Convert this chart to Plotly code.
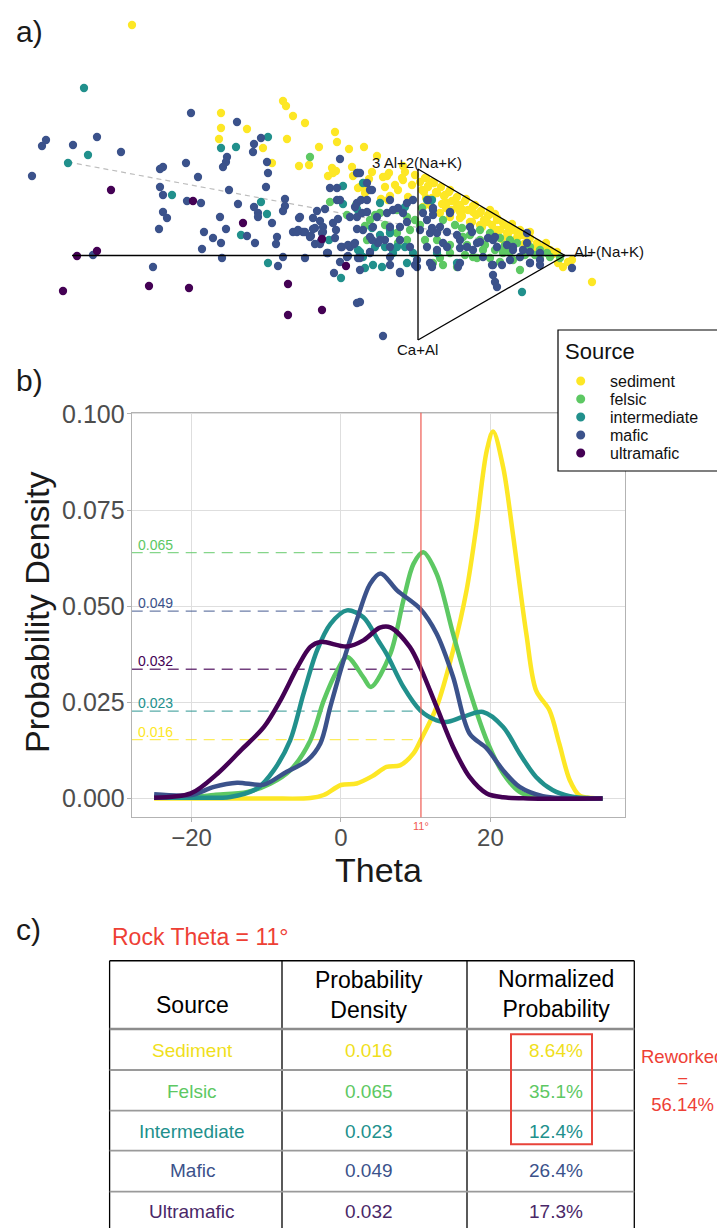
import plotly.graph_objects as go

W, H = 725, 1228
OFF = 8  # page body margin that the browser adds around the figure

# ---------------- shared categories ----------------
sources = ["sediment", "felsic", "intermediate", "mafic", "ultramafic"]
table_sources = ["Sediment", "Felsic", "Intermediate", "Mafic", "Ultramafic"]
colors = ["#FDE725", "#5DC863", "#21908C", "#3B528B", "#440154"]
table_colors = ["#F0DF1C", "#5DC863", "#21908C", "#3B528B", "#4A2868"]

# ---------------- panel a: projected samples (figure units, y downward) ----------------
sediment_pts = [
    (132, 25), (221, 113), (221, 128), (219, 139), (247, 129), (283, 101), (286, 106), (293, 116),
    (305, 123), (287, 139), (263, 148), (272, 163), (299, 166), (309, 165), (319, 147), (335, 132),
    (337, 142), (349, 149), (332, 168), (336, 171), (328, 176), (352, 167), (353, 176), (358, 188),
    (364, 147), (377, 156), (333, 173), (372, 172), (369, 179), (387, 176), (389, 173), (403, 166),
    (405, 172), (402, 178), (360, 187), (366, 190), (385, 187), (381, 199), (390, 196), (408, 197),
    (422, 190), (426, 198), (423, 207), (434, 183), (365, 193), (388, 200), (383, 177), (403, 180),
    (395, 185), (412, 185), (415, 175), (398, 190), (432, 182), (437, 193), (445, 195), (447, 203),
    (457, 207), (463, 210), (473, 212), (480, 213), (488, 215), (497, 218), (503, 223), (510, 227),
    (517, 232), (523, 235), (530, 238), (537, 243), (543, 247), (550, 250), (557, 252), (440, 213),
    (450, 217), (460, 218), (470, 222), (480, 225), (487, 222), (497, 230), (507, 233), (517, 238),
    (527, 242), (537, 248), (558, 263), (563, 267), (568, 262), (572, 260), (592, 282), (426, 178),
    (450, 190), (466, 199), (490, 210), (512, 224), (530, 232), (546, 243), (428, 186), (455, 200),
    (475, 205), (495, 214), (520, 230), (420, 182), (424, 192), (430, 205), (446, 208), (460, 212),
    (425, 178), (433, 183), (441, 187), (449, 192), (457, 197), (465, 201), (473, 206), (481, 211),
    (489, 215), (497, 220), (505, 225), (513, 230), (521, 235), (529, 240), (537, 244), (545, 249),
    (553, 254), (428, 187), (436, 192), (444, 196), (452, 201), (460, 205), (468, 210), (476, 215),
    (484, 220), (492, 225), (500, 230), (508, 234), (516, 239), (524, 244), (532, 248), (540, 253),
    (432, 198), (442, 204), (452, 210), (462, 216), (472, 222), (482, 227), (492, 233), (502, 239),
]
felsic_pts = [
    (310, 157), (330, 202), (347, 215), (370, 220), (397, 233), (407, 217), (422, 208), (420, 225),
    (433, 263), (380, 213), (397, 210), (390, 233), (407, 240), (437, 240), (450, 253), (473, 257),
    (483, 250), (503, 253), (520, 257), (547, 253), (443, 265), (457, 267), (520, 270), (367, 240),
    (415, 220), (430, 200), (443, 220), (462, 228), (480, 230), (490, 233), (500, 238), (510, 240),
    (480, 240), (467, 245), (517, 243), (530, 247), (540, 250), (477, 258), (503, 250), (513, 260),
    (540, 258), (550, 257), (463, 237), (455, 225), (470, 235), (485, 245), (495, 250), (505, 245),
    (525, 255), (535, 255), (560, 258), (450, 245), (425, 240), (410, 230), (398, 243), (385, 225),
    (375, 215), (356, 205), (365, 226), (440, 258), (465, 255), (490, 258), (500, 262), (510, 252),
]
intermediate_pts = [
    (84, 88), (88, 155), (68, 163), (172, 195), (221, 148), (236, 147), (268, 137), (261, 202),
    (267, 214), (241, 235), (268, 263), (329, 240), (343, 186), (343, 204), (341, 278), (358, 250),
    (357, 209), (360, 252), (365, 268), (373, 265), (382, 267), (380, 235), (390, 233), (397, 247),
    (407, 263), (385, 247), (405, 207), (427, 200), (380, 203), (390, 230), (372, 228), (363, 257),
    (375, 247), (393, 253), (405, 247), (413, 253), (363, 183), (432, 200), (437, 253), (457, 263),
    (522, 292),
]
mafic_pts = [
    (32, 176), (42, 146), (46, 140), (73, 145), (97, 137), (121, 152), (191, 113), (237, 122),
    (261, 138), (254, 144), (253, 152), (227, 157), (226, 162), (223, 167), (267, 162), (268, 173),
    (340, 159), (357, 173), (163, 167), (160, 169), (186, 163), (198, 177), (160, 187), (163, 195),
    (187, 201), (201, 203), (229, 190), (266, 187), (238, 204), (254, 207), (258, 213), (258, 217),
    (285, 199), (285, 206), (283, 211), (272, 223), (220, 217), (226, 229), (163, 212), (167, 218),
    (159, 229), (204, 232), (213, 238), (221, 243), (202, 249), (247, 236), (255, 243), (277, 237),
    (276, 244), (299, 218), (293, 232), (298, 230), (303, 232), (313, 229), (311, 236), (320, 221),
    (325, 209), (317, 211), (330, 188), (337, 188), (337, 200), (338, 219), (336, 230), (335, 238),
    (323, 232), (315, 244), (320, 244), (341, 247), (350, 247), (354, 244), (357, 229), (357, 203),
    (328, 253), (348, 256), (358, 258), (340, 262), (334, 273), (283, 257), (278, 266), (305, 258),
    (222, 258), (153, 267), (93, 255), (357, 303), (357, 217), (297, 232), (305, 232), (315, 228),
    (310, 237), (321, 241), (327, 253), (342, 247), (348, 245), (355, 243), (347, 257), (360, 258),
    (370, 252), (378, 243), (385, 240), (383, 336), (390, 265), (400, 273), (415, 265), (432, 267),
    (363, 230), (372, 240), (358, 173), (367, 183), (372, 190), (361, 200), (340, 200), (355, 207),
    (362, 213), (367, 212), (377, 217), (387, 213), (398, 208), (428, 200), (433, 210), (427, 220),
    (300, 217), (313, 218), (323, 227), (333, 223), (350, 217), (373, 227), (390, 227), (407, 222),
    (322, 233), (370, 190), (367, 200), (360, 173), (390, 200), (407, 203), (413, 200), (393, 210),
    (403, 213), (423, 213), (433, 215), (450, 213), (400, 227), (420, 230), (430, 233), (440, 227),
    (370, 237), (380, 240), (390, 247), (400, 240), (410, 247), (427, 247), (443, 243), (460, 240),
    (467, 247), (477, 243), (493, 240), (513, 247), (527, 243), (370, 253), (390, 257), (417, 260),
    (432, 265), (460, 263), (493, 265), (530, 263), (540, 260), (400, 272), (417, 267), (360, 270),
    (493, 275), (495, 282), (497, 287), (572, 268), (360, 302), (450, 212), (433, 208), (432, 228),
    (437, 233), (447, 232), (457, 235), (470, 227), (472, 232), (480, 242), (488, 238), (495, 237),
    (497, 247), (507, 245), (513, 250), (523, 250), (530, 252), (540, 253), (437, 250), (447, 247),
    (460, 248), (473, 250), (483, 257), (492, 265), (502, 265), (510, 260), (520, 257), (530, 263),
    (540, 265), (527, 233), (430, 263), (458, 267),
]
ultramafic_pts = [
    (111, 190), (77, 256), (97, 251), (63, 291), (149, 286), (189, 288), (193, 201), (243, 223),
    (288, 284), (288, 315), (322, 310), (346, 266), (322, 239),
]
points = [sediment_pts, felsic_pts, intermediate_pts, mafic_pts, ultramafic_pts]

# ---------------- panel b: density curves ----------------
sediment_theta = [-25, -10, -4.1, -2.3, 0, 2.1, 4.2, 6.1, 7.9, 9.7, 10.7, 12.8, 15, 16.8, 18.1, 19.5,
                  20.35, 21.7, 23, 24.8, 26.1, 27.9, 29.2, 30.6, 31.9, 33.5, 35]
sediment_dens = [0, 0, 0.0001, 0.0009, 0.0035, 0.0039, 0.0058, 0.0082, 0.0086, 0.0117, 0.0153, 0.0238,
                 0.0385, 0.0541, 0.0705, 0.0904, 0.0954, 0.0861, 0.0688, 0.0428, 0.0281, 0.0229,
                 0.0143, 0.0048, 0.0008, 0.0001, 0]
felsic_theta = [-25, -20, -17, -12.5, -9.4, -6.8, -4.1, -2.3, -0.5, 0.8, 3.0, 4.0, 6.6, 8.35, 9.7, 11,
                12.8, 15, 17.2, 19.5, 21.7, 23.9, 26, 30, 35]
felsic_dens = [0.0002, 0.0004, 0.0009, 0.0017, 0.0039, 0.0073, 0.0151, 0.0255, 0.0333, 0.0368, 0.0315,
               0.029, 0.0376, 0.0515, 0.061, 0.064, 0.0584, 0.0428, 0.0281, 0.0151, 0.0065, 0.0017,
               0.0003, 0, 0]
intermediate_theta = [-25, -20, -14.8, -11.2, -9.0, -6.8, -5.0, -3.2, -1.4, 0.8, 3.0, 5.0, 6.1, 8.35,
                      10.6, 12.8, 14.1, 16.3, 19, 21.7, 23.9, 26.1, 28.3, 30.6, 33, 35]
intermediate_dens = [0.0002, 0.0002, 0.0004, 0.0026, 0.0073, 0.0151, 0.0273, 0.0385, 0.0454, 0.0489,
                     0.0471, 0.041, 0.0376, 0.029, 0.0229, 0.0203, 0.0199, 0.0212, 0.0225, 0.0186,
                     0.0117, 0.0056, 0.0022, 0.0006, 0.0001, 0]
mafic_theta = [-25, -20, -17, -13.9, -10.3, -7.65, -4.5, -2.76, -1.43, 0.35, 2.1, 3.9, 5.3, 7.5, 10.6,
               12.8, 15, 17.2, 19.5, 21.7, 23.9, 27, 30, 35]
mafic_dens = [0.0011, 0.0009, 0.003, 0.0041, 0.0036, 0.0065, 0.0099, 0.0143, 0.0238, 0.0359, 0.0463,
              0.0558, 0.0585, 0.0541, 0.0493, 0.0428, 0.0316, 0.0169, 0.013, 0.0073, 0.003, 0.0006,
              0.0001, 0]
ultramafic_theta = [-25, -20.1, -16.5, -13.4, -10.3, -8.1, -5.8, -4.1, -2.76, 0.8, 3.0, 5.2, 6.6, 9.2,
                    10.7, 12.8, 15.0, 17.2, 19.5, 21.7, 25, 35]
ultramafic_dens = [0.0002, 0.0013, 0.0065, 0.0125, 0.0186, 0.0255, 0.0342, 0.0394, 0.0407, 0.0395,
                   0.0411, 0.0444, 0.0445, 0.0394, 0.0337, 0.0238, 0.0134, 0.0056, 0.0013, 0.0003,
                   0, 0]
curve_theta = [sediment_theta, felsic_theta, intermediate_theta, mafic_theta, ultramafic_theta]
curve_dens = [sediment_dens, felsic_dens, intermediate_dens, mafic_dens, ultramafic_dens]

rock_theta = 10.7            # position of the red line
rock_theta_label = "11°"
dens_at_rock = [0.0153, 0.0639, 0.0227, 0.0487, 0.0336]   # dashed line heights

# ---------------- panel c: table ----------------
table_density = ["0.016", "0.065", "0.023", "0.049", "0.032"]
table_normalized = [8.64, 35.1, 12.4, 26.4, 17.3]
reworked_groups = ["Sediment", "Felsic", "Intermediate"]


# ---------------- helpers for layout positions (screen pixels -> paper) ----------------
def px(x):
    return (x - OFF) / W


def py(y):
    return 1 - (y - OFF) / H


FONT = "Liberation Sans, Arial, Helvetica, sans-serif"

fig = go.Figure()

# panel a scatter
for name, col, pts in zip(sources, colors, points):
    fig.add_trace(go.Scatter(
        x=[p[0] for p in pts], y=[p[1] for p in pts], mode="markers",
        xaxis="x2", yaxis="y2", name=name, legendgroup=name, showlegend=False,
        marker=dict(size=8.3, color=col, line=dict(width=0)),
    ))

# panel b dashed guide lines
for col, d in zip(colors, dens_at_rock):
    fig.add_trace(go.Scatter(
        x=[-28, rock_theta], y=[d, d], mode="lines", showlegend=False, hoverinfo="skip",
        line=dict(color=col, width=1.3, dash="11px,7px"), opacity=0.75,
    ))

# panel b curves
for name, col, xs, ys in zip(sources, colors, curve_theta, curve_dens):
    fig.add_trace(go.Scatter(
        x=xs, y=ys, mode="lines", showlegend=False, name=name, legendgroup=name,
        line=dict(color=col, width=4.5, shape="spline", smoothing=0.9),
    ))

shapes = []
annotations = []

# ternary-like frame in panel a
tri = dict(xref="x2", yref="y2", line=dict(color="black", width=1.3), layer="above")
shapes.append(dict(type="line", x0=68, y0=162, x1=565, y1=255, xref="x2", yref="y2",
                   line=dict(color="#bdbdbd", width=1.2, dash="5px,4px"), layer="below"))
shapes.append(dict(type="line", x0=72, y0=255.5, x1=592, y1=255.5, **tri))
shapes.append(dict(type="line", x0=418, y0=169, x1=418, y1=340, **tri))
shapes.append(dict(type="line", x0=418, y0=169, x1=565, y1=255.5, **tri))
shapes.append(dict(type="line", x0=418, y0=340, x1=565, y1=255.5, **tri))

annotations += [
    dict(x=417, y=162.5, xref="x2", yref="y2", text="3 Al+2(Na+K)", showarrow=False,
         font=dict(family=FONT, size=15, color="#111"), xanchor="center", yanchor="middle"),
    dict(x=572, y=251.5, xref="x2", yref="y2", text="Al+(Na+K)", showarrow=False,
         font=dict(family=FONT, size=15, color="#111"), xanchor="left", yanchor="middle"),
    dict(x=417, y=349.5, xref="x2", yref="y2", text="Ca+Al", showarrow=False,
         font=dict(family=FONT, size=15, color="#111"), xanchor="center", yanchor="middle"),
]

# red rock-theta line
shapes.append(dict(type="line", x0=rock_theta, x1=rock_theta, y0=0, y1=1, xref="x", yref="y domain",
                   line=dict(color="#EF5A52", width=1.2), layer="above"))
annotations.append(dict(x=rock_theta, y=py(826), xref="x", yref="paper", text=rock_theta_label,
                        showarrow=False, font=dict(family=FONT, size=11, color="#EF5A52"),
                        xanchor="center", yanchor="middle"))

# dashed line labels
for col, d, lab in zip(colors, dens_at_rock, table_density):
    annotations.append(dict(x=-28, y=d, xref="x", yref="y", text=lab, showarrow=False,
                            xanchor="left", yanchor="bottom", xshift=4, yshift=-2,
                            font=dict(family=FONT, size=14, color=col)))

# axis titles for panel b
annotations.append(dict(x=px(37), y=py(612), xref="paper", yref="paper", text="Probability Density",
                        textangle=-90, showarrow=False, font=dict(family=FONT, size=34, color="#1a1a1a"),
                        xanchor="center", yanchor="middle"))
annotations.append(dict(x=px(379), y=py(870), xref="paper", yref="paper", text="Theta",
                        showarrow=False, font=dict(family=FONT, size=34, color="#1a1a1a"),
                        xanchor="center", yanchor="middle"))

# panel letters
for letter, (lx, ly) in zip(["a)", "b)", "c)"], [(14, 31), (14, 380), (14, 929)]):
    annotations.append(dict(x=px(lx), y=py(ly), xref="paper", yref="paper", text=letter,
                            showarrow=False, font=dict(family=FONT, size=30, color="#1a1a1a"),
                            xanchor="left", yanchor="middle"))

# ---------------- legend (drawn box) ----------------
leg_left, leg_top, leg_bottom = 558, 330, 471
leg_rows = [381, 399, 417, 435, 453]
shapes.append(dict(type="rect", xref="paper", yref="paper", x0=px(leg_left), x1=px(W + OFF + 10),
                   y0=py(leg_bottom), y1=py(leg_top), fillcolor="white",
                   line=dict(color="black", width=1.2), layer="above"))
annotations.append(dict(x=px(563), y=py(351), xref="paper", yref="paper", text="Source",
                        showarrow=False, xanchor="left", yanchor="middle",
                        font=dict(family=FONT, size=22, color="#111")))
for name, col, ry in zip(sources, colors, leg_rows):
    shapes.append(dict(type="circle", xref="paper", yref="paper", xsizemode="pixel",
                       ysizemode="pixel", xanchor=px(580.7), yanchor=py(ry),
                       x0=-4.5, x1=4.5, y0=-4.5, y1=4.5, fillcolor=col,
                       line=dict(width=0), layer="above"))
    annotations.append(dict(x=px(609), y=py(ry), xref="paper", yref="paper", text=name,
                            showarrow=False, xanchor="left", yanchor="middle", borderpad=0,
                            font=dict(family=FONT, size=16, color="#111")))

# ---------------- table (panel c) ----------------
t_left, t_c1, t_c2, t_right = 109.6, 282, 467, 634.3
t_top, t_head = 960.7, 1029
row_lines = [1070, 1110.7, 1150.7, 1191.7]
row_centers = [1050.7, 1091, 1131, 1170.7, 1211.7]
col_centers = [192, 369, 556]


def pline(x0, y0, x1, y1, color, width):
    return dict(type="line", xref="paper", yref="paper", x0=px(x0), y0=py(y0), x1=px(x1), y1=py(y1),
                line=dict(color=color, width=width))


shapes.append(pline(t_left, t_top, t_right, t_top, "black", 1.5))
for xv in [t_left, t_c1, t_c2, t_right]:
    shapes.append(pline(xv, t_top, xv, H + 20, "black", 1.3))
shapes.append(pline(t_left, t_head, t_right, t_head, "#8c8c8c", 2.5))
for yv in row_lines:
    shapes.append(pline(t_left, yv, t_right, yv, "#9a9a9a", 1.8))

# red box around reworked rows
shapes.append(dict(type="rect", xref="paper", yref="paper", x0=px(511), x1=px(592),
                   y0=py(1144.3), y1=py(1034.3), line=dict(color="#E8433A", width=2)))

annotations.append(dict(x=px(109.6), y=py(936.7), xref="paper", yref="paper", text="Rock Theta = 11°",
                        showarrow=False, xanchor="left", yanchor="middle",
                        font=dict(family=FONT, size=23, color="#EE4035")))
headers = ["Source", "Probability<br>Density", "Normalized<br>Probability"]
header_y = [1005, 995, 994]
for cx, hy, txt in zip(col_centers, header_y, headers):
    annotations.append(dict(x=px(cx), y=py(hy), xref="paper", yref="paper", text=txt,
                            showarrow=False, xanchor="center", yanchor="middle",
                            font=dict(family=FONT, size=23, color="black")))

for ry, s, d, nrm, col in zip(row_centers, table_sources, table_density, table_normalized, table_colors):
    for cx, txt in zip(col_centers, [s, d, f"{nrm:g}%"]):
        annotations.append(dict(x=px(cx), y=py(ry), xref="paper", yref="paper", text=txt,
                                showarrow=False, xanchor="center", yanchor="middle",
                                font=dict(family=FONT, size=19, color=col)))

reworked = sum(n for s, n in zip(table_sources, table_normalized) if s in reworked_groups)
annotations.append(dict(x=px(682), y=py(1080), xref="paper", yref="paper",
                        text=f"Reworked<br>=<br>{reworked:.2f}%", showarrow=False,
                        xanchor="center", yanchor="middle",
                        font=dict(family=FONT, size=18.5, color="#EE4035")))

# ---------------- layout ----------------
fig.update_layout(
    width=W, height=H, margin=dict(l=0, r=0, t=0, b=0, pad=0, autoexpand=False),
    paper_bgcolor="white", plot_bgcolor="white",
    font=dict(family=FONT),
    showlegend=False,
    xaxis=dict(domain=[px(131.7), px(625)], range=[-28, 38], anchor="y", automargin=False,
               tickvals=[-20, 0, 20], ticktext=["−20", "0", "20"],
               showgrid=True, gridcolor="#dedede", gridwidth=1, zeroline=False,
               showline=True, mirror=True, linecolor="#b3b3b3", linewidth=1.2,
               ticks="outside", ticklen=4, tickcolor="#b3b3b3", ticklabelstandoff=-5,
               tickfont=dict(size=24, color="#4d4d4d")),
    yaxis=dict(domain=[py(817.3), py(412.7)], range=[-0.0049, 0.1003], anchor="x", automargin=False,
               tickvals=[0, 0.025, 0.05, 0.075, 0.1],
               ticktext=["0.000", "0.025", "0.050", "0.075", "0.100"],
               showgrid=True, gridcolor="#dedede", gridwidth=1, zeroline=False,
               showline=True, mirror=True, linecolor="#b3b3b3", linewidth=1.2,
               ticks="outside", ticklen=4, tickcolor="#b3b3b3", ticklabelstandoff=-3,
               tickfont=dict(size=25, color="#4d4d4d")),
    xaxis2=dict(domain=[0, 1], range=[OFF, W + OFF], anchor="y2", visible=False, automargin=False),
    yaxis2=dict(domain=[1 - 370 / H, 1], range=[OFF + 370, OFF], anchor="x2", visible=False,
                automargin=False),
    shapes=shapes,
    annotations=annotations,
)

fig.write_html("out.html")
